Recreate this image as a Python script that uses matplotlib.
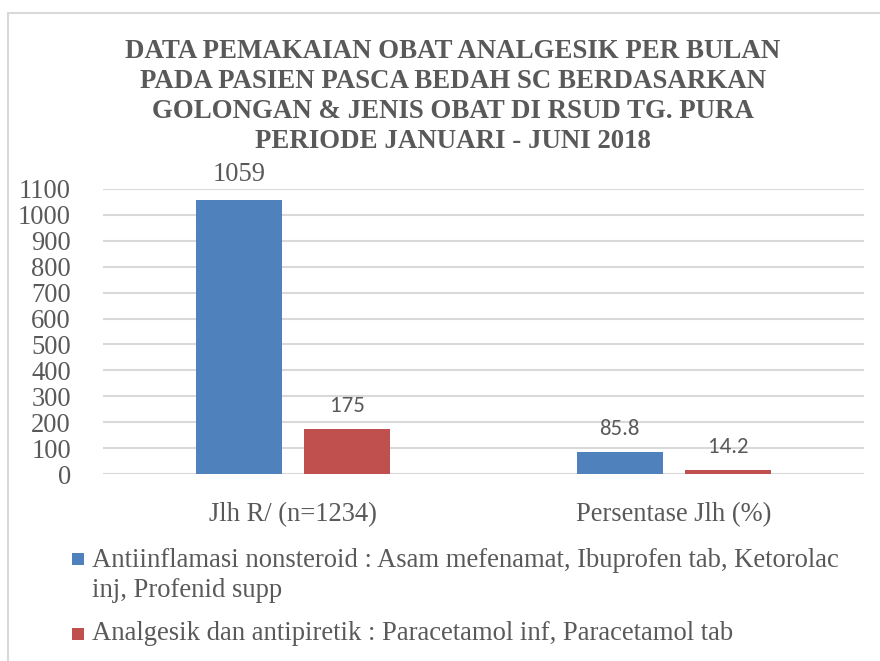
import matplotlib
matplotlib.use("Agg")
import matplotlib.pyplot as plt
from matplotlib.patches import Rectangle
import numpy as np

# ---- data ----
categories = ["Jlh R/ (n=1234)", "Persentase Jlh (%)"]
series_names = [
    "Antiinflamasi nonsteroid : Asam mefenamat, Ibuprofen tab, Ketorolac\ninj, Profenid supp",
    "Analgesik dan antipiretik : Paracetamol inf, Paracetamol tab",
]
nsaid_values = [1059, 85.8]
analgesic_values = [175, 14.2]
nsaid_labels = ["1059", "85.8"]
analgesic_labels = ["175", "14.2"]
title_lines = [
    "DATA PEMAKAIAN OBAT ANALGESIK PER BULAN",
    "PADA PASIEN PASCA BEDAH SC BERDASARKAN",
    "GOLONGAN & JENIS OBAT DI RSUD TG. PURA",
    "PERIODE JANUARI - JUNI 2018",
]
yticks = list(range(0, 1101, 100))

W, H = 880, 661
DPI = 100
fig = plt.figure(figsize=(W / DPI, H / DPI), dpi=DPI)
renderer = fig.canvas.get_renderer()

TXT = "#595959"
BLUE = "#4F81BD"
RED = "#C0504D"
GRID = "#D9D9D9"
SERIF = "Liberation Serif"
SANS = "Carlito"
import matplotlib.font_manager as fm
_names = {f.name for f in fm.fontManager.ttflist}
if SANS not in _names:
    SANS = "Open Sans" if "Open Sans" in _names else "DejaVu Sans"


def fit_size(s, family, weight, target_px):
    t = fig.text(0, 0, s, family=family, weight=weight, fontsize=10)
    w = t.get_window_extent(renderer).width
    t.remove()
    return 10 * target_px / w


def fx(px):
    return px / W


def fy(py):
    return 1 - py / H


# outer chart border
fig.patches.append(Rectangle((fx(8), fy(H + 5)), fx(W + 10), (H + 5 - 13) / H,
                             transform=fig.transFigure, fill=False,
                             edgecolor=GRID, linewidth=1.5))

# axes
ax = fig.add_axes([fx(103), fy(474), fx(864 - 103), (474 - 189) / H])
ax.set_xlim(-0.5, 1.5)
ax.set_ylim(0, 1100)
x = np.arange(len(categories))
bw = 0.226
off = 0.142
b1 = ax.bar(x - off, nsaid_values, bw, color=BLUE, zorder=3)
b2 = ax.bar(x + off, analgesic_values, bw, color=RED, zorder=3)

ax.set_yticks(yticks)
ax.yaxis.grid(True, color=GRID, linewidth=1.5, zorder=0)
for s in ax.spines.values():
    s.set_visible(False)
ax.tick_params(axis="both", length=0)

tick_fs = fit_size("1100", SERIF, "normal", 52)
ax.set_yticklabels([str(v) for v in yticks], family=SERIF, fontsize=tick_fs, color=TXT)
ax.tick_params(axis="y", pad=103 - 80)
ax.set_xticks(x)
cat_fs = fit_size(categories[0], SERIF, "normal", 169)
ax.set_xticklabels(categories, family=SERIF, fontsize=cat_fs, color=TXT)
ax.tick_params(axis="x", pad=20)

# data labels
sans_fs = fit_size("175", SANS, "normal", 35)
for rect, lab in zip(b1, nsaid_labels):
    fam = SERIF if lab == "1059" else SANS
    fs = tick_fs if lab == "1059" else sans_fs
    ax.annotate(lab, (rect.get_x() + rect.get_width() / 2, rect.get_height()),
                xytext=(0, 19 if lab == "1059" else 17), textcoords="offset pixels",
                ha="center", va="baseline", family=fam, fontsize=fs, color=TXT)
for rect, lab in zip(b2, analgesic_labels):
    ax.annotate(lab, (rect.get_x() + rect.get_width() / 2, rect.get_height()),
                xytext=(0, 17), textcoords="offset pixels",
                ha="center", va="baseline", family=SANS, fontsize=sans_fs, color=TXT)

# title
title_fs = fit_size(title_lines[0], SERIF, "bold", 654)
for i, line in enumerate(title_lines):
    fig.text(fx(453), fy(58 + 30 * i), line, family=SERIF, weight="bold",
             fontsize=title_fs, color=TXT, ha="center", va="baseline")

# legend (manual)
leg_lines = series_names[0].split("\n")
leg_fs = fit_size(leg_lines[0], SERIF, "normal", 748)
fig.patches.append(Rectangle((fx(72), fy(565)), fx(12), 12 / H, transform=fig.transFigure,
                             facecolor=BLUE, edgecolor="none"))
fig.text(fx(92), fy(567), leg_lines[0], family=SERIF, fontsize=leg_fs, color=TXT, va="baseline")
fig.text(fx(92), fy(597), leg_lines[1], family=SERIF, fontsize=leg_fs, color=TXT, va="baseline")
fig.patches.append(Rectangle((fx(72), fy(640)), fx(12), 12 / H, transform=fig.transFigure,
                             facecolor=RED, edgecolor="none"))
fig.text(fx(92), fy(640), series_names[1], family=SERIF, fontsize=leg_fs, color=TXT, va="baseline")

fig.savefig("out.png", dpi=DPI)
